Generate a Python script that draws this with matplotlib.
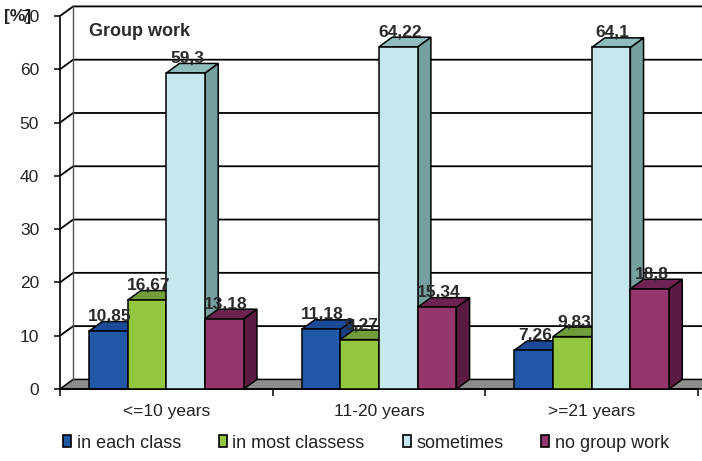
import matplotlib
matplotlib.use("Agg")
import matplotlib.pyplot as plt
from matplotlib.patches import Polygon, Patch

plt.rcParams['font.family'] = ['Liberation Sans', 'DejaVu Sans']

categories = ["<=10 years", "11-20 years", ">=21 years"]
series_names = ["in each class", "in most classess", "sometimes", "no group work"]
in_each_class = [10.85, 11.18, 7.26]
in_most_classes = [16.67, 9.27, 9.83]
sometimes = [59.3, 64.22, 64.1]
no_group_work = [13.18, 15.34, 18.8]
value_labels = [["10,85", "11,18", "7,26"],
                ["16,67", "9,27", "9,83"],
                ["59,3", "64,22", "64,1"],
                ["13,18", "15,34", "18,8"]]
y_ticks = [0, 10, 20, 30, 40, 50, 60, 70]

series = [in_each_class, in_most_classes, sometimes, no_group_work]
# (front, top, side) shades for each series
shades = [("#2157A7", "#1B4A98", "#173F83"),
          ("#93C73F", "#6F9E3B", "#5B8730"),
          ("#C6E7EE", "#8FBDBD", "#76A09F"),
          ("#94356B", "#6E2251", "#5A1A42")]

fig = plt.figure(figsize=(7.02, 4.61), dpi=100)
ax = fig.add_axes([60 / 702, 72 / 461, 638 / 702, 373 / 461])
ax.set_xlim(0, 3)
ax.set_ylim(0, 70)
ax.patch.set_alpha(0)

# depth offset of the pseudo-3D walls and bars, in data units
dx, dy = 0.062, 1.8
edge = dict(edgecolor="black", linewidth=1.1, joinstyle="miter")

# floor
ax.add_patch(Polygon([(0, 0), (3.2, 0), (3.2 + dx, dy), (dx, dy)],
                     closed=True, facecolor="#8C8C8C", clip_on=False, zorder=1, **edge))

# back wall gridlines and side wall strokes
for v in y_ticks[1:]:
    ax.plot([0, dx, 3.2], [v, v + dy, v + dy], color="black", lw=1.3,
            clip_on=False, zorder=1.5, solid_joinstyle="miter")
ax.plot([dx, dx], [dy, 70 + dy], color="#555555", lw=1.0, clip_on=False, zorder=1.5)

# bars
w = 0.182
for i, vals in enumerate(series):
    front, top, side = shades[i]
    for j, v in enumerate(vals):
        x0 = j + 0.5 - 2 * w + i * w
        z = 2 + i
        ax.add_patch(Polygon([(x0 + w, 0), (x0 + w + dx, dy), (x0 + w + dx, v + dy), (x0 + w, v)],
                             closed=True, facecolor=side, zorder=z, clip_on=False, **edge))
        ax.add_patch(Polygon([(x0, v), (x0 + w, v), (x0 + w + dx, v + dy), (x0 + dx, v + dy)],
                             closed=True, facecolor=top, zorder=z, clip_on=False, **edge))
        ax.add_patch(Polygon([(x0, 0), (x0 + w, 0), (x0 + w, v), (x0, v)],
                             closed=True, facecolor=front, zorder=z, clip_on=False, **edge))

for i, vals in enumerate(series):
    for j, v in enumerate(vals):
        x0 = j + 0.5 - 2 * w + i * w
        ax.text(x0 + w / 2 + dx / 8, v + dy - 0.4, value_labels[i][j],
                ha="center", va="bottom", fontsize=12.5, fontweight="bold",
                color="#2B2B2B", zorder=10)

# axes styling
for s in ("top", "right"):
    ax.spines[s].set_visible(False)
ax.spines["left"].set_linewidth(1.2)
ax.spines["bottom"].set_linewidth(1.2)
ax.spines["left"].set_zorder(0.5)
ax.set_yticks(y_ticks)
ax.set_yticklabels([str(t) for t in y_ticks])
ax.tick_params(axis="y", direction="out", length=4, width=1.1, pad=11,
               labelsize=12.5, labelcolor="#222222")
ax.set_xticks([0.5, 1.5, 2.5])
ax.set_xticklabels(categories)
ax.set_xticks([0, 1, 2, 3], minor=True)
ax.tick_params(axis="x", which="major", length=0, pad=11, labelsize=12.5, labelcolor="#222222")
ax.tick_params(axis="x", which="minor", direction="out", length=5, width=1.1)

fig.text(89 / 702, 1 - 32 / 461, "Group work", fontsize=13, fontweight="bold",
         color="#2B2B2B", va="center", ha="left")
fig.text(4 / 702, 1 - 17 / 461, "[%]", fontsize=12.5, fontweight="bold",
         color="#222222", va="center", ha="left")

handles = [Patch(facecolor=shades[i][0], edgecolor="black", linewidth=1.2) for i in range(4)]
fig.legend(handles, series_names, loc="center", bbox_to_anchor=(366 / 702, 18 / 461),
           ncol=4, frameon=False, fontsize=13, handlelength=0.45, handleheight=0.6,
           handletextpad=0.3, columnspacing=2.1, labelcolor="#222222")

fig.savefig("out.png", dpi=100)
